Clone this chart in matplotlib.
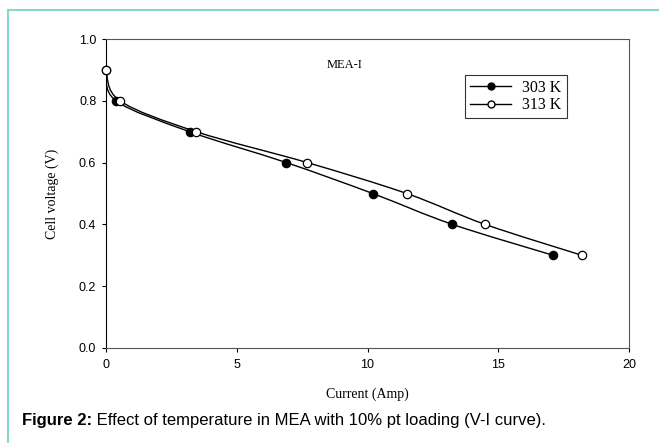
"""V-I curves of MEA-I at two cell temperatures."""

import matplotlib
matplotlib.use("Agg")
import matplotlib.pyplot as plt
from matplotlib.path import Path
from matplotlib.patches import PathPatch, Rectangle
import numpy as np

# Readings taken off the figure
CURRENT_303 = [0.0, 0.38, 3.2, 6.9, 10.2, 13.25, 17.1]
VOLTAGE_303 = [0.9, 0.8, 0.7, 0.6, 0.5, 0.4, 0.3]
CURRENT_313 = [0.0, 0.53, 3.45, 7.7, 11.5, 14.5, 18.2]
VOLTAGE_313 = [0.9, 0.8, 0.7, 0.6, 0.5, 0.4, 0.3]
SERIES_LABELS = ["303 K", "313 K"]
X_TICKS = [0, 5, 10, 15, 20]
Y_TICKS = [0.0, 0.2, 0.4, 0.6, 0.8, 1.0]

SERIF = "Liberation Serif"
SANS = "Liberation Sans"


def smooth_path(xs, ys):
    """Build a Catmull-Rom style bezier path through the points."""
    pts = np.column_stack([xs, ys]).astype(float)
    verts = [pts[0]]
    codes = [Path.MOVETO]
    n = len(pts)
    for i in range(n - 1):
        p0 = pts[i - 1] if i > 0 else pts[i]
        p1 = pts[i]
        p2 = pts[i + 1]
        p3 = pts[i + 2] if i + 2 < n else pts[i + 1]
        c1 = p1 + (p2 - p0) / 6.0
        c2 = p2 - (p3 - p1) / 6.0
        verts += [c1, c2, p2]
        codes += [Path.CURVE4] * 3
    return Path(verts, codes)


fig = plt.figure(figsize=(6.59, 4.43), dpi=100)

# teal frame around the figure panel
fig.patches.append(Rectangle((8 / 659, -0.05), 1.0, 1 - 10 / 443 + 0.05,
                             transform=fig.transFigure, fill=False,
                             edgecolor="#86d6cb", linewidth=1.5))

ax = fig.add_axes([106 / 659, 1 - 348 / 443, 523 / 659, 309 / 443])

for xs, ys, face, label in [(CURRENT_303, VOLTAGE_303, "black", SERIES_LABELS[0]),
                            (CURRENT_313, VOLTAGE_313, "white", SERIES_LABELS[1])]:
    ax.add_patch(PathPatch(smooth_path(xs, ys), fill=False, edgecolor="black",
                           linewidth=1.0, zorder=2))
    ax.plot(xs, ys, linestyle="none", marker="o", markersize=6,
            markerfacecolor=face, markeredgecolor="black", markeredgewidth=0.9,
            zorder=3, clip_on=False)
    # proxy for the legend
    ax.plot([], [], color="black", linewidth=1.0, marker="o", markersize=5,
            markerfacecolor=face, markeredgecolor="black", label=label)

ax.set_xlim(0, 20)
ax.set_ylim(0.0, 1.0)
ax.set_xticks(X_TICKS)
ax.set_yticks(Y_TICKS)
ax.set_xticklabels([str(t) for t in X_TICKS], fontfamily=SANS, fontsize=9)
ax.set_yticklabels([f"{t:.1f}" for t in Y_TICKS], fontfamily=SANS, fontsize=9)
ax.tick_params(direction="out", length=3, width=0.8)
ax.tick_params(axis="x", pad=5)
ax.tick_params(axis="y", pad=4)

for side in ["top", "right", "bottom"]:
    ax.spines[side].set_color("#555555")
ax.spines["left"].set_color("black")

ax.set_xlabel("Current (Amp)", fontfamily=SERIF, fontsize=10, labelpad=12)
ax.set_ylabel("Cell voltage (V)", fontfamily=SERIF, fontsize=10, labelpad=14)

ax.text(9.14, 0.915, "MEA-I", fontfamily=SERIF, fontsize=9,
        ha="center", va="center")

leg = ax.legend(loc="upper left", bbox_to_anchor=(359 / 523, 1 - 36 / 309),
                prop={"family": SERIF, "size": 11.5}, frameon=True, fancybox=False,
                edgecolor="black", handlelength=2.6, borderpad=0.3,
                labelspacing=0.1, handletextpad=0.7, borderaxespad=0)
leg.get_frame().set_linewidth(0.8)

caption = fig.text(22 / 659, 1 - 421 / 443, "Figure 2:", fontfamily=SANS,
                   fontsize=12, fontweight="bold", va="center", ha="left")
rest = fig.text(0, 0, " Effect of temperature in MEA with 10% pt loading (V-I curve).",
                fontfamily=SANS, fontsize=12, va="center", ha="left")
fig.canvas.draw()
bbox = caption.get_window_extent().transformed(fig.transFigure.inverted())
rest.set_position((bbox.x1, 1 - 421 / 443))

fig.savefig("out.png", dpi=100)
